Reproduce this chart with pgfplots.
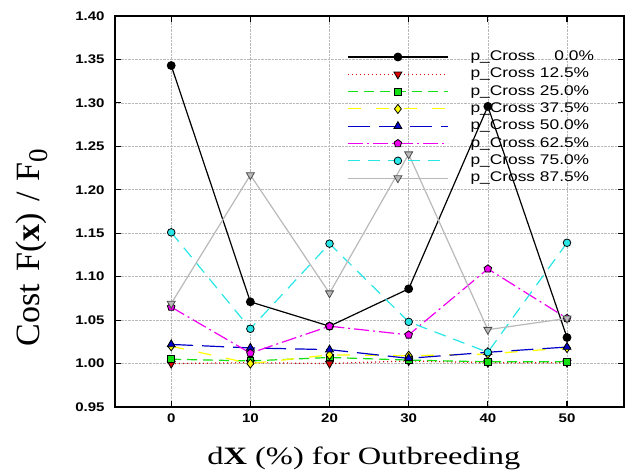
\documentclass[border=0pt]{standalone}
\usepackage{fontspec}
\usepackage{pgfplots}
\usepackage{pgfplotstable}
\pgfplotsset{compat=1.18}
\setmainfont{Liberation Serif}
\newfontfamily\tickfont[FakeStretch=1.2]{Liberation Sans Bold}
\newfontfamily\legfont[FakeStretch=1.24]{Liberation Sans}
\newfontfamily\labfont[FakeStretch=1.3]{Liberation Serif}

\definecolor{cRed}{RGB}{220,0,0}
\definecolor{cGreen}{RGB}{20,225,20}
\definecolor{cYellow}{RGB}{255,255,0}
\definecolor{cBlue}{RGB}{0,0,200}
\definecolor{cMag}{RGB}{240,0,240}
\definecolor{cCyan}{RGB}{40,230,230}
\definecolor{cGray}{RGB}{185,185,185}

\pgfplotstableread{
x   p0    p125  p25   p375  p50   p625  p75   p875
0   1.343 1.000 1.005 1.020 1.022 1.065 1.151 1.069
10  1.071 1.001 1.003 1.000 1.018 1.012 1.040 1.217
20  1.043 1.000 1.007 1.010 1.016 1.043 1.138 1.081
30  1.086 1.003 1.004 1.009 1.006 1.033 1.048 1.241
40  1.296 1.001 1.002 1.011 1.013 1.109 1.013 1.039
50  1.030 1.001 1.002 1.018 1.019 1.052 1.139 1.052
}\data

\newcommand\pc[1]{p\_Cross #1\%}

\begin{document}
\begin{tikzpicture}
\begin{axis}[
  scale only axis, width=509pt, height=391pt,
  xmin=-7.1, xmax=57.2, ymin=0.95, ymax=1.40,
  xtick={0,10,20,30,40,50},
  ytick={0.95,1.00,1.05,1.10,1.15,1.20,1.25,1.30,1.35,1.40},
  y tick label style={/pgf/number format/fixed, /pgf/number format/fixed zerofill, /pgf/number format/precision=2},
  /pgf/number format/assume math mode=true,
  xticklabel style={font=\tickfont\fontsize{12.5}{12.5}\selectfont, yshift=-3pt},
  yticklabel style={font=\tickfont\fontsize{12.5}{12.5}\selectfont, xshift=-7pt},
  tick align=inside, major tick length=6pt,
  tick style={line width=1.2pt, black},
  axis line style={line width=1.6pt},
  grid=major, major grid style={densely dotted, gray!55, line width=0.6pt},
  xlabel={d\textbf{X} (\%) for Outbreeding},
  xlabel style={font=\labfont\fontsize{25}{25}\selectfont, at={(rel axis cs:0.489,0)}, anchor=center, yshift=-51pt},
  ylabel={Cost\hspace{0.12em} F(\textbf{x})\hspace{0.08em} /\hspace{0.08em} F\raisebox{-0.25em}{\fontsize{27}{27}\selectfont 0}},
  ylabel style={font=\fontsize{34}{34}\selectfont, at={(rel axis cs:-0.163,0.408)}, anchor=center, rotate=0},
  legend style={at={(rel axis cs:0.456,0.911)}, anchor=north west, draw=none, fill=none,
    font=\legfont\fontsize{14}{14}\selectfont, inner sep=0pt, row sep=5.3pt,
    nodes={inner sep=0pt, text height=9.5pt, text depth=2.5pt},
    /tikz/every odd column/.append style={column sep=22pt}},
  legend cell align=left,
  legend image code/.code={\draw[#1, mark=none] (0pt,0pt) -- (100pt,0pt); \path[#1] plot coordinates {(50pt,0pt)};},
  every axis plot/.append style={line width=1.2pt, mark size=3.8pt},
]
\addplot[black, solid, mark=*, mark options={solid, fill=black, draw=black}] table[x=x,y=p0] {\data};
\addlegendentry{\pc{\phantom{1}\ 0.0}}
\addplot[cRed, dash pattern=on 1pt off 3pt, mark=triangle*, mark size=4.6pt, mark options={solid, rotate=180, fill=cRed, draw=black, line width=0.8pt}] table[x=x,y=p125] {\data};
\addlegendentry{\pc{12.5}}
\addplot[color=cGreen, dash pattern=on 10pt off 6pt, mark=square*, mark size=3.4pt, mark options={solid, fill=cGreen, draw=black, line width=0.8pt}] table[x=x,y=p25] {\data};
\addlegendentry{\pc{25.0}}
\addplot[cYellow, dash pattern=on 13pt off 15pt, mark=diamond*, mark size=4.6pt, mark options={solid, fill=cYellow, draw=black, line width=0.8pt}] table[x=x,y=p375] {\data};
\addlegendentry{\pc{37.5}}
\addplot[cBlue, dash pattern=on 22pt off 9pt, mark=triangle*, mark size=4.6pt, mark options={solid, fill=cBlue, draw=black, line width=0.8pt}] table[x=x,y=p50] {\data};
\addlegendentry{\pc{50.0}}
\addplot[color=cMag, dash pattern=on 15pt off 4pt on 2pt off 4pt, mark=pentagon*, mark size=4pt, mark options={solid, fill=cMag, draw=black, line width=0.8pt}] table[x=x,y=p625] {\data};
\addlegendentry{\pc{62.5}}
\addplot[cCyan, dash pattern=on 12pt off 8pt, mark=*, mark options={solid, fill=cCyan, draw=black, line width=0.8pt}] table[x=x,y=p75] {\data};
\addlegendentry{\pc{75.0}}
\addplot[cGray, solid, mark=triangle*, mark size=4.6pt, mark options={solid, rotate=180, fill=cGray, draw=black!70, line width=0.8pt}] table[x=x,y=p875] {\data};
\addlegendentry{\pc{87.5}}
\node[anchor=south east, inner sep=0pt, font=\tickfont\fontsize{10.5}{10.5}\selectfont] at (rel axis cs:0.992,1) [yshift=3pt] {Simple Beam - CO vs. OB};
\end{axis}
\path ([shift={(-115pt,-66pt)}]current axis.south west) rectangle ([shift={(9pt,16pt)}]current axis.north east);
\end{tikzpicture}
\end{document}
